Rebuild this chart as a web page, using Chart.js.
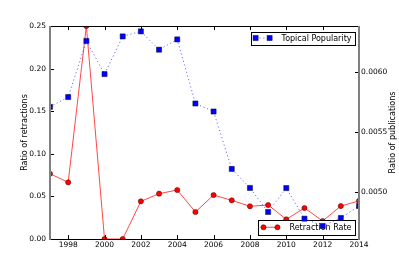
<!DOCTYPE html>
<html><head><meta charset="utf-8">
<script src="https://cdn.jsdelivr.net/npm/chart.js@4/dist/chart.umd.min.js"></script>
<style>html,body{margin:0;padding:0;background:#fff;}#wrap{width:399px;height:266px;}</style>
</head><body><div id="wrap"><canvas id="c" width="399" height="266"></canvas></div>
<script>
const years = [1997,1998,1999,2000,2001,2002,2003,2004,2005,2006,2007,2008,2009,2010,2011,2012,2013,2014];
const retractionRate = [0.0766,0.0665,0.25,0,0,0.0442,0.0532,0.0575,0.0317,0.0516,0.0454,0.0384,0.0399,0.0231,0.0364,0.0211,0.0387,0.0447];
const topicalPopularity = [0.005709,0.005791,0.006260,0.005983,0.006298,0.006340,0.006187,0.006273,0.005737,0.005670,0.005190,0.005031,0.004830,0.005030,0.004774,0.004713,0.004780,0.004880];
const xTickYears = [1998,2000,2002,2004,2006,2008,2010,2012,2014];
const leftTicks = [0,0.05,0.10,0.15,0.20,0.25];
const rightTicks = [0.0050,0.0055,0.0060];
const leftTitle = 'Ratio of retractions';
const rightTitle = 'Ratio of publications';

const FONT = '"DejaVu Sans", sans-serif';

function drawLegend(ctx, ds, boxRight, boxTop, boxH) {
  ctx.save();
  ctx.font = '8px ' + FONT;
  const w = ctx.measureText(ds.label).width;
  const textLeft = boxRight - 3.5 - w;
  const m2 = textLeft - 12;
  const m1 = m2 - 14;
  const boxLeft = m1 - 5;
  const cy = boxTop + boxH / 2;
  ctx.fillStyle = '#fff';
  ctx.fillRect(boxLeft, boxTop, boxRight - boxLeft, boxH);
  ctx.strokeStyle = '#000';
  ctx.lineWidth = 1;
  ctx.strokeRect(Math.round(boxLeft) + 0.5, Math.round(boxTop) + 0.5, Math.round(boxRight - boxLeft), Math.round(boxH));
  ctx.beginPath();
  ctx.setLineDash(ds.borderDash || []);
  ctx.strokeStyle = ds.borderColor;
  ctx.lineWidth = ds.borderWidth;
  ctx.moveTo(m1, cy); ctx.lineTo(m2, cy); ctx.stroke();
  ctx.setLineDash([]);
  ctx.fillStyle = ds.pointBackgroundColor;
  ctx.strokeStyle = ds.pointBorderColor;
  ctx.lineWidth = ds.pointBorderWidth;
  const opts = {pointStyle: ds.pointStyle, rotation: 0, radius: ds.pointRadius, borderWidth: ds.pointBorderWidth};
  Chart.helpers.drawPoint(ctx, opts, m1, cy);
  Chart.helpers.drawPoint(ctx, opts, m2, cy);
  ctx.fillStyle = '#000';
  ctx.textBaseline = 'middle';
  ctx.textAlign = 'left';
  ctx.fillText(ds.label, textLeft, cy + 0.5);
  ctx.restore();
}

function drawFrame(chart) {
  const ctx = chart.ctx, a = chart.chartArea;
  const sx = chart.scales.x, sy = chart.scales.y, sy1 = chart.scales.y1;
  ctx.save();
  ctx.fillStyle = '#000';
  xTickYears.forEach(v => {
    const px = Math.round(sx.getPixelForValue(v));
    ctx.fillRect(px, a.top, 1, 4);
    ctx.fillRect(px, a.bottom - 4, 1, 4);
  });
  leftTicks.forEach(v => {
    const py = Math.round(sy.getPixelForValue(v));
    ctx.fillRect(a.left, py, 4, 1);
  });
  rightTicks.forEach(v => {
    const py = Math.round(sy1.getPixelForValue(v));
    ctx.fillRect(a.right - 4, py, 4, 1);
  });
  ctx.fillStyle = '#000';
  ctx.fillRect(a.left, a.top, a.right - a.left, 1);
  ctx.fillRect(a.left, a.bottom, a.right - a.left, 1);
  ctx.fillStyle = '#808080';
  ctx.fillRect(a.left - 1, a.top, 2, a.bottom - a.top + 1);
  ctx.fillRect(a.right - 1, a.top, 2, a.bottom - a.top + 1);
  ctx.restore();
}

const custom = {
  id: 'custom',
  beforeDatasetDraw(chart, args) {
    if (chart.data.datasets[args.index].label === 'Topical Popularity') {
      drawFrame(chart);
      drawLegend(chart.ctx, chart.data.datasets[1], chart.chartArea.right - 4, chart.chartArea.bottom - 19, 14.5);
    }
  },
  afterDatasetsDraw(chart) {
    drawFrame(chart);
    drawLegend(chart.ctx, chart.data.datasets[0], chart.chartArea.right - 4, chart.chartArea.top + 5.5, 13);
    const ctx = chart.ctx, a = chart.chartArea;
    ctx.save();
    ctx.font = '8px ' + FONT;
    ctx.fillStyle = '#000';
    ctx.textAlign = 'center';
    ctx.textBaseline = 'middle';
    ctx.translate(chart.scales.y1.right - 6, (a.top + a.bottom) / 2);
    ctx.rotate(-Math.PI / 2);
    ctx.fillText(rightTitle, 0, 0);
    ctx.restore();
  }
};

const tickFont = {family: FONT, size: 7.5};

new Chart(document.getElementById('c'), {
  type: 'line',
  data: {
    datasets: [
      {
        label: 'Topical Popularity',
        data: years.map((x, i) => ({x: x, y: topicalPopularity[i]})),
        xAxisID: 'x', yAxisID: 'y1',
        borderColor: 'rgba(60,60,255,0.75)', borderWidth: 1, borderDash: [1.2, 2.6],
        pointStyle: 'rect', pointRadius: 3.6, pointBackgroundColor: '#0000ff',
        pointBorderColor: '#00003a', pointBorderWidth: 0.5,
        tension: 0, fill: false, clip: 0, order: 1
      },
      {
        label: 'Retraction Rate',
        data: years.map((x, i) => ({x: x, y: retractionRate[i]})),
        xAxisID: 'x', yAxisID: 'y',
        borderColor: 'rgba(255,40,40,0.85)', borderWidth: 1,
        pointStyle: 'circle', pointRadius: 2.6, pointBackgroundColor: '#ff0000',
        pointBorderColor: '#500000', pointBorderWidth: 0.5,
        tension: 0, fill: false, clip: 0, order: 2
      }
    ]
  },
  options: {
    responsive: false,
    devicePixelRatio: 1,
    animation: false,
    layout: {padding: {top: 26, left: 0, right: 0, bottom: 0}},
    plugins: {legend: {display: false}, tooltip: {enabled: false}},
    scales: {
      x: {
        type: 'linear', position: 'bottom', min: 1997, max: 2014,
        afterBuildTicks: s => { s.ticks = xTickYears.map(v => ({value: v})); },
        afterFit: s => { s.height = 27; },
        ticks: {font: tickFont, color: '#000', padding: 2, autoSkip: false, maxRotation: 0, callback: v => String(v)},
        grid: {display: false, drawTicks: false},
        border: {display: false}
      },
      y: {
        type: 'linear', position: 'left', min: 0, max: 0.25,
        afterBuildTicks: s => { s.ticks = leftTicks.map(v => ({value: v})); },
        afterFit: s => { s.width = 50; },
        ticks: {font: tickFont, color: '#000', padding: 4, callback: v => v.toFixed(2)},
        grid: {display: false, drawTicks: false},
        border: {display: false},
        title: {display: true, text: leftTitle, font: {family: FONT, size: 8}, color: '#000', padding: {top: 20, bottom: 0}}
      },
      y1: {
        type: 'linear', position: 'right', min: 0.004604, max: 0.006385,
        afterBuildTicks: s => { s.ticks = rightTicks.map(v => ({value: v})); },
        afterFit: s => { s.width = 40; },
        ticks: {font: tickFont, color: '#000', padding: 2, callback: v => v.toFixed(4)},
        grid: {display: false, drawTicks: false},
        border: {display: false}
      }
    }
  },
  plugins: [custom]
});
</script>
</body></html>
